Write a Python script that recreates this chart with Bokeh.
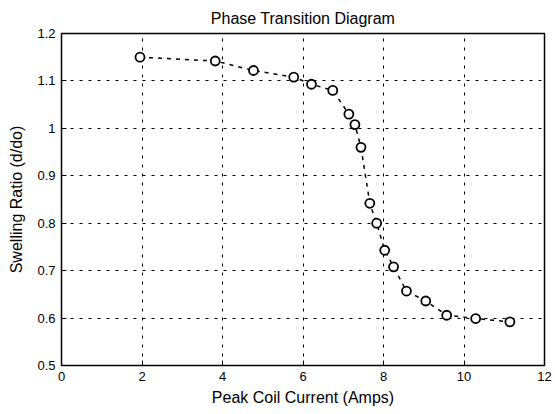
from bokeh.plotting import figure
from bokeh.models import FixedTicker, CustomJSTickFormatter, Range1d
from bokeh.embed import file_html
from bokeh.resources import INLINE

current = [1.95, 3.82, 4.77, 5.77, 6.21, 6.74, 7.14, 7.29, 7.44, 7.66, 7.83, 8.03,
           8.25, 8.57, 9.05, 9.57, 10.29, 11.14]
ratio = [1.150, 1.142, 1.122, 1.108, 1.093, 1.080, 1.030, 1.008, 0.960, 0.842, 0.800, 0.743,
         0.708, 0.657, 0.636, 0.606, 0.599, 0.592]
x_ticks = [0, 2, 4, 6, 8, 10, 12]
y_ticks = [0.5, 0.6, 0.7, 0.8, 0.9, 1.0, 1.1, 1.2]

FONT = "Liberation Sans"

p = figure(width=552, height=413, output_backend="svg", toolbar_location=None,
           x_range=Range1d(0, 12), y_range=Range1d(0.5, 1.2),
           title="Phase Transition Diagram",
           min_border_left=61, min_border_right=8, min_border_top=0, min_border_bottom=48)

p.title.align = "center"
p.title.text_font = FONT
p.title.text_font_size = "16px"
p.title.text_font_style = "normal"
p.title.text_color = "black"
p.title.standoff = 14

p.outline_line_color = "black"
p.outline_line_width = 1.5

for ax in (p.xaxis[0], p.yaxis[0]):
    ax.axis_line_color = None
    ax.major_tick_in = 5
    ax.major_tick_out = 0
    ax.minor_tick_line_color = None
    ax.major_tick_line_color = "black"
    ax.major_label_text_font = FONT
    ax.major_label_text_font_size = "13px"
    ax.major_label_text_color = "black"
    ax.axis_label_text_font = FONT
    ax.axis_label_text_font_size = "16px"
    ax.axis_label_text_font_style = "normal"
    ax.axis_label_text_color = "black"
    ax.axis_label_standoff = 5
    ax.major_label_standoff = 6

p.yaxis.axis_label_standoff = 9

p.xaxis.ticker = FixedTicker(ticks=x_ticks)
p.yaxis.ticker = FixedTicker(ticks=y_ticks)
p.yaxis.formatter = CustomJSTickFormatter(code="return String(Math.round(tick*10)/10);")
p.xaxis.axis_label = "Peak Coil Current (Amps)"
p.yaxis.axis_label = "Swelling Ratio (d/do)"

p.xgrid.grid_line_color = "black"
p.ygrid.grid_line_color = "black"
p.xgrid.grid_line_dash = "3 6"
p.ygrid.grid_line_dash = "3 6"
p.xgrid.grid_line_width = 1
p.ygrid.grid_line_width = 1

p.line(current, ratio, line_color="black", line_dash="4 5", line_width=1.5)
p.scatter(current, ratio, marker="circle", size=9, line_color="black", line_width=1.8,
          fill_color="white")

open("out.html", "w").write(file_html(p, INLINE))
